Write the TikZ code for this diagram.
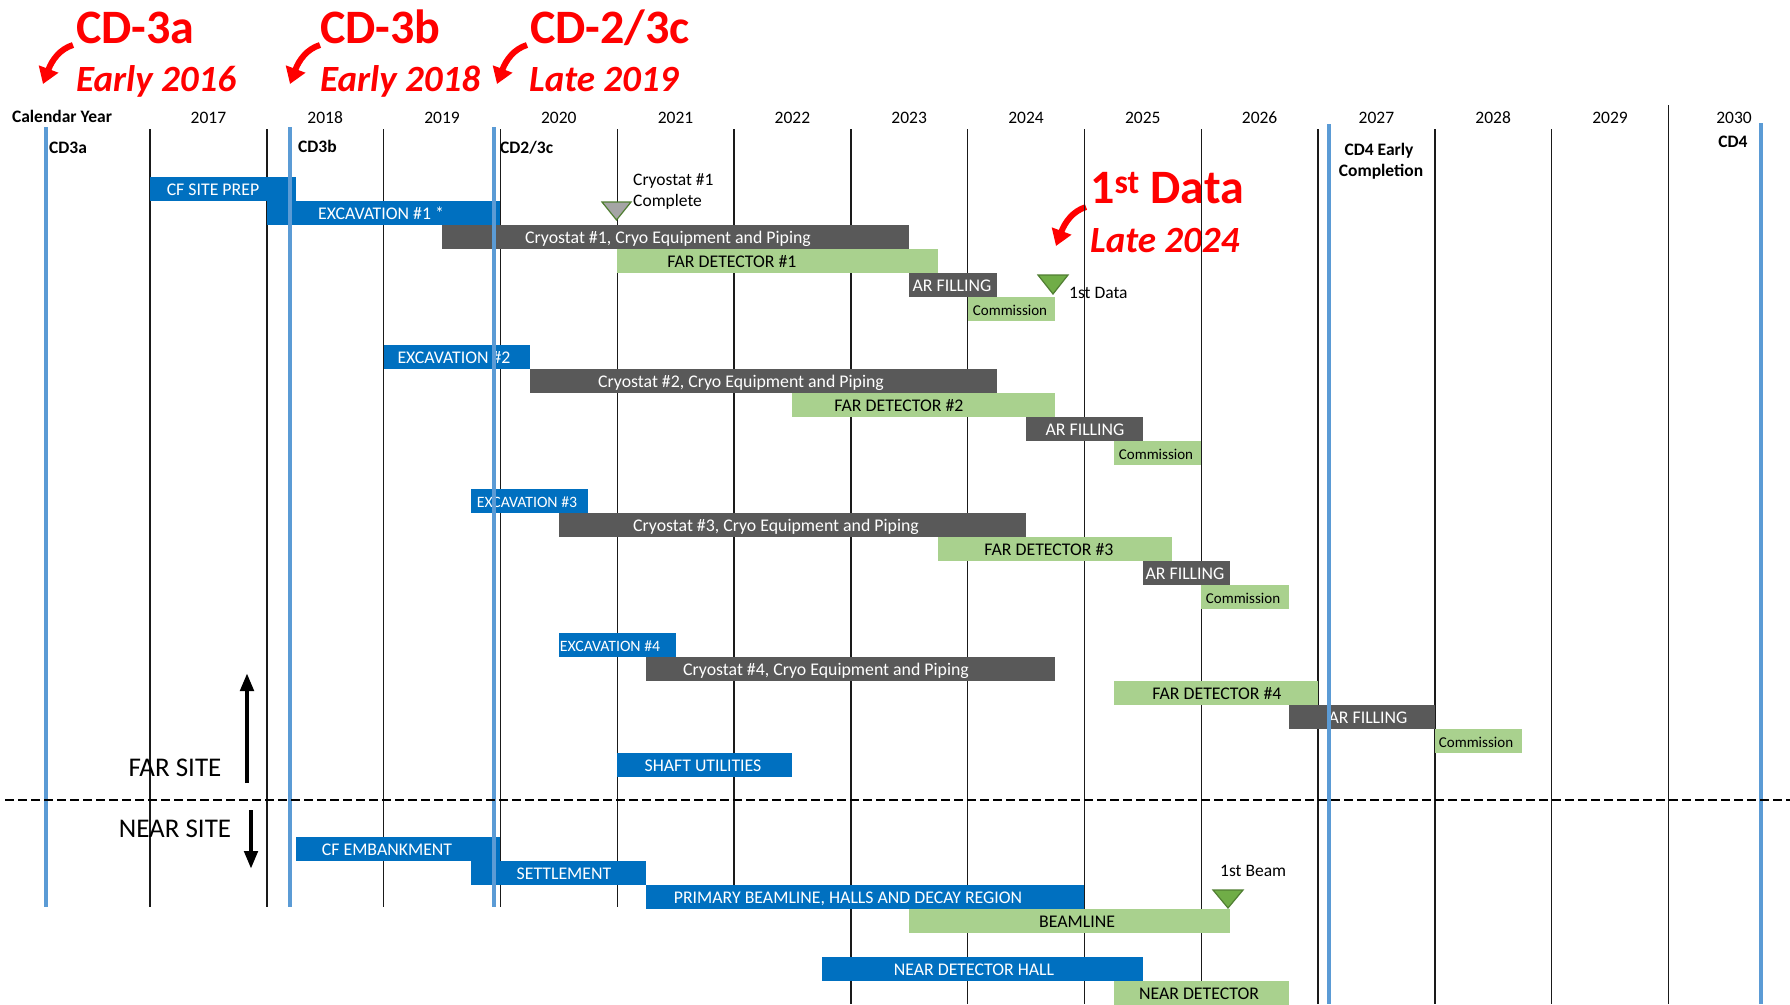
\documentclass[tikz,border=0pt]{standalone}
\usepackage{fontspec}
\setmainfont{Carlito}
\usetikzlibrary{arrows.meta}
\definecolor{barblue}{HTML}{0070C0}
\definecolor{bargrey}{HTML}{595959}
\definecolor{bargreen}{HTML}{A9D18E}
\definecolor{cdblue}{HTML}{5B9BD5}
\definecolor{msgreen}{HTML}{70AD47}
\definecolor{msborder}{HTML}{507E32}
\definecolor{msgrey}{HTML}{A5A5A5}
\definecolor{gridcol}{HTML}{1A1A1A}

\newcommand{\ganttbar}[8]{%
  \node[#2, anchor=north west, minimum width={(#4-#3)*1pt}, minimum height=24pt] (#1) at (#3,#5) {};
  \node[#7, anchor=base] (#1t) at (#6,{#5+18}) {#8};
}

\begin{document}
\begin{tikzpicture}[x={(1pt,0pt)}, y={(0pt,-1pt)},
  barbase/.style={inner sep=0pt, outer sep=0pt, draw=none},
  bluebar/.style={barbase, fill=barblue},
  greybar/.style={barbase, fill=bargrey},
  greenbar/.style={barbase, fill=bargreen},
  wtxt/.style={inner sep=0pt, text=white, font=\fontsize{17.8}{20}\selectfont},
  btxt/.style={inner sep=0pt, text=black, font=\fontsize{17.8}{20}\selectfont},
  wsmall/.style={inner sep=0pt, text=white, font=\fontsize{15.8}{18}\selectfont},
  bsmall/.style={inner sep=0pt, text=black, font=\fontsize{15}{17}\selectfont},
  lbl/.style={inner sep=0pt, text=black, font=\fontsize{17.5}{20}\selectfont},
  lblb/.style={inner sep=0pt, text=black, font=\fontsize{17.5}{20}\selectfont\bfseries},
  site/.style={inner sep=0pt, text=black, font=\fontsize{27}{30}\selectfont},
  redbig/.style={inner sep=0pt, text=red, font=\fontsize{48}{52}\selectfont\bfseries},
  redit/.style={inner sep=0pt, text=red, font=\fontsize{37}{40}\selectfont\bfseries\itshape},
  redarrow/.style={draw=red, line width=6pt, -{Triangle[length=16pt, width=20pt]}},
  gridline/.style={draw=gridcol, line width=1.4pt},
  cdline/.style={draw=cdblue, line width=3.5pt},
  sitearrow/.style={draw=black, line width=4.5pt, -{Triangle[length=18pt, width=13pt]}},
  milestone/.style={fill=msgreen, draw=msborder, line width=1.2pt},
  milegrey/.style={fill=msgrey, draw=msborder, line width=1.2pt}
]
\useasboundingbox (0,0) rectangle (1790,1004);
\fill[white] (0,0) rectangle (1790,1004);

% red annotations
\node[redbig, anchor=base west] (cd3abig) at (76,43) {CD-3a};
\node[redit, anchor=base west] (e2016) at (76,91) {Early 2016};
\node[redbig, anchor=base west] (cd3bbig) at (320,43) {CD-3b};
\node[redit, anchor=base west] (e2018) at (320,91) {Early 2018};
\node[redbig, anchor=base west] (cd23cbig) at (530,43) {CD-2/3c};
\node[redit, anchor=base west] (l2019) at (529,91) {Late 2019};
\node[redbig, anchor=base west] (firstdata) at (1090,203) {1\textsuperscript{st} Data};
\node[redit, anchor=base west] (l2024) at (1090,252) {Late 2024};

\coordinate (a1s) at (73,45);  \coordinate (a1e) at (43,84);
\coordinate (a2s) at (320,45); \coordinate (a2e) at (290,84);
\coordinate (a3s) at (527,45); \coordinate (a3e) at (497,84);
\coordinate (a4s) at (1086,207); \coordinate (a4e) at (1056,246);
\draw[redarrow] (a1s) .. controls (60,49) and (52,60) .. (a1e);
\draw[redarrow] (a2s) .. controls (307,49) and (299,60) .. (a2e);
\draw[redarrow] (a3s) .. controls (514,49) and (506,60) .. (a3e);
\draw[redarrow] (a4s) .. controls (1073,211) and (1065,222) .. (a4e);

% grid lines
\foreach \xx in {150,266.8,383.6,500.4,617.2,734}
  \draw[gridline] (\xx,129) -- (\xx,907);
\foreach \xx in {850.8,967.6,1084.4,1201.2,1318,1434.8,1551.6}
  \draw[gridline] (\xx,129) -- (\xx,1004);
\draw[gridline] (1668.4,105) -- (1668.4,1004);

% header
\node[lblb, anchor=base] (calyear) at (62,122) {Calendar Year};
\node[lbl, anchor=base] (y2017) at (208.4,123) {2017};
\node[lbl, anchor=base] (y2018) at (325.2,123) {2018};
\node[lbl, anchor=base] (y2019) at (442,123) {2019};
\node[lbl, anchor=base] (y2020) at (558.8,123) {2020};
\node[lbl, anchor=base] (y2021) at (675.6,123) {2021};
\node[lbl, anchor=base] (y2022) at (792.4,123) {2022};
\node[lbl, anchor=base] (y2023) at (909.2,123) {2023};
\node[lbl, anchor=base] (y2024) at (1026,123) {2024};
\node[lbl, anchor=base] (y2025) at (1142.8,123) {2025};
\node[lbl, anchor=base] (y2026) at (1259.6,123) {2026};
\node[lbl, anchor=base] (y2027) at (1376.4,123) {2027};
\node[lbl, anchor=base] (y2028) at (1493.2,123) {2028};
\node[lbl, anchor=base] (y2029) at (1610,123) {2029};
\node[lbl, anchor=base] (y2030) at (1734,123) {2030};

\node[lblb, anchor=base west] (cd3a) at (49,153) {CD3a};
\node[lblb, anchor=base west] (cd3b) at (298,152) {CD3b};
\node[lblb, anchor=base west] (cd23c) at (500,153) {CD2/3c};
\node[lblb, anchor=base] (cd4early) at (1379,155) {CD4 Early};
\node[lblb, anchor=base] (cd4compl) at (1381,176) {Completion};
\node[lblb, anchor=base] (cd4) at (1733,147) {CD4};

% far site bars
\ganttbar{cfsite}{bluebar}{150}{296}{177}{213}{wtxt}{CF SITE PREP}
\ganttbar{exc1}{bluebar}{266.8}{500.4}{201}{381}{wtxt}{EXCAVATION \#1 *}
\ganttbar{cryo1}{greybar}{442}{909.2}{225}{668}{wtxt}{Cryostat \#1, Cryo Equipment and Piping}
\ganttbar{fd1}{greenbar}{617.2}{938.4}{249}{732}{btxt}{FAR DETECTOR \#1}
\ganttbar{ar1}{greybar}{909.2}{996.8}{273}{952}{wtxt}{AR FILLING}
\ganttbar{com1}{greenbar}{967.6}{1055.2}{297}{1010}{bsmall}{Commission}

\ganttbar{exc2}{bluebar}{383.6}{529.6}{345}{454}{wtxt}{EXCAVATION \#2}
\ganttbar{cryo2}{greybar}{529.6}{996.8}{369}{741}{wtxt}{Cryostat \#2, Cryo Equipment and Piping}
\ganttbar{fd2}{greenbar}{792}{1055.2}{393}{899}{btxt}{FAR DETECTOR \#2}
\ganttbar{ar2}{greybar}{1026}{1142.8}{417}{1085}{wtxt}{AR FILLING}
\ganttbar{com2}{greenbar}{1113.6}{1201.2}{441}{1156}{bsmall}{Commission}

\ganttbar{exc3}{bluebar}{471.2}{588}{489}{527}{wsmall}{EXCAVATION \#3}
\ganttbar{cryo3}{greybar}{558.8}{1026}{513}{776}{wtxt}{Cryostat \#3, Cryo Equipment and Piping}
\ganttbar{fd3}{greenbar}{938.4}{1172}{537}{1049}{btxt}{FAR DETECTOR \#3}
\ganttbar{ar3}{greybar}{1142.8}{1230.4}{561}{1185}{wtxt}{AR FILLING}
\ganttbar{com3}{greenbar}{1201.2}{1288.8}{585}{1243}{bsmall}{Commission}

\ganttbar{exc4}{bluebar}{558.8}{675.6}{633}{610}{wsmall}{EXCAVATION \#4}
\ganttbar{cryo4}{greybar}{646.4}{1055.2}{657}{826}{wtxt}{Cryostat \#4, Cryo Equipment and Piping}
\ganttbar{fd4}{greenbar}{1113.6}{1318}{681}{1217}{btxt}{FAR DETECTOR \#4}
\ganttbar{ar4}{greybar}{1288.8}{1434.8}{705}{1368}{wtxt}{AR FILLING}
\ganttbar{com4}{greenbar}{1434.8}{1522.4}{729}{1476}{bsmall}{Commission}

\ganttbar{shaft}{bluebar}{617.2}{792}{753}{703}{wtxt}{SHAFT UTILITIES}

% near site bars
\ganttbar{cfemb}{bluebar}{296}{500.4}{837}{387}{wtxt}{CF EMBANKMENT}
\ganttbar{settle}{bluebar}{471.2}{646.4}{861}{564}{wtxt}{SETTLEMENT}
\ganttbar{prim}{bluebar}{646.4}{1084.4}{885}{848}{wtxt}{PRIMARY BEAMLINE, HALLS AND DECAY REGION}
\ganttbar{beam}{greenbar}{909.2}{1230.4}{909}{1077}{btxt}{BEAMLINE}
\ganttbar{ndh}{bluebar}{821.6}{1142.8}{957}{974}{wtxt}{NEAR DETECTOR HALL}
\ganttbar{nd}{greenbar}{1113.6}{1288.8}{981}{1199}{btxt}{NEAR DETECTOR}

% CD milestone lines
\draw[cdline] (46,127) -- (46,907);
\draw[cdline] (290,127) -- (290,907);
\draw[cdline] (494,127) -- (494,907);
\draw[cdline] (1329,124) -- (1329,1004);
\draw[cdline] (1761,123) -- (1761,1004);

% far / near separator
\draw[black, line width=2.2pt, dash pattern=on 9pt off 4pt] (5,800) -- (1790,800);

% milestones
\filldraw[milegrey] (602,202) -- (631,202) -- (616.5,220) -- cycle;
\node[lbl, anchor=base west] (cryocomp1) at (633,185) {Cryostat \#1};
\node[lbl, anchor=base west] (cryocomp2) at (633,206) {Complete};
\filldraw[milestone] (1038,275) -- (1068,275) -- (1053,294) -- cycle;
\node[lbl, anchor=base west] (datalbl) at (1069,298) {1st Data};
\filldraw[milestone] (1213,890) -- (1243,890) -- (1228,908) -- cycle;
\node[lbl, anchor=base west] (beamlbl) at (1220,876) {1st Beam};

% site labels and arrows
\node[site, anchor=base] (farsite) at (175,776) {FAR SITE};
\node[site, anchor=base] (nearsite) at (175,837) {NEAR SITE};
\coordinate (fup0) at (247,783); \coordinate (fup1) at (247,673);
\coordinate (ndn0) at (251,810); \coordinate (ndn1) at (251,869);
\draw[sitearrow] (fup0) -- (fup1);
\draw[sitearrow] (ndn0) -- (ndn1);
\end{tikzpicture}
\end{document}
